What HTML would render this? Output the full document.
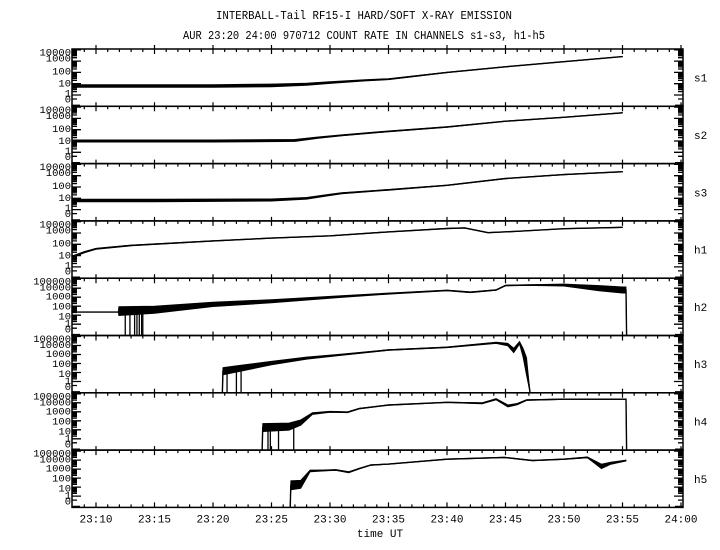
<!DOCTYPE html>
<html><head><meta charset="utf-8"><style>
html,body{margin:0;padding:0;background:#fff}
svg{display:block}
text{font-family:"Liberation Mono","DejaVu Sans Mono",monospace;fill:#000}
</style></head><body>
<svg id="chart" width="720" height="550" viewBox="0 0 720 550" xmlns="http://www.w3.org/2000/svg">
<text x="364" y="19" font-size="12" text-anchor="middle" textLength="296" lengthAdjust="spacingAndGlyphs">INTERBALL-Tail RF15-I HARD/SOFT X-RAY EMISSION</text>
<text x="364" y="39" font-size="12" text-anchor="middle" textLength="362" lengthAdjust="spacingAndGlyphs">AUR 23:20 24:00 970712  COUNT RATE IN CHANNELS s1-s3, h1-h5</text>
<g id="plots"></g>
<text x="380" y="537" font-size="11" text-anchor="middle">time UT</text>
</svg>
<script>
// ---- data (log10 counts; -1 = zero) ----
const channels = ["s1","s2","s3","h1","h2","h3","h4","h5"];
const tS1 = [8,15,20,25,28,30,33,35,40,45,50,55];
const vS1 = [0.8,0.8,0.8,0.85,0.95,1.1,1.3,1.4,2.0,2.5,2.95,3.4];
const sS1 = [0.12,0.12,0.12,0.12,0.1,0.08,0.06,0.05,0.03,0.02,0.02,0.02];
const tS2 = [8,20,27,29,31,35,40,45,50,55];
const vS2 = [1.0,1.0,1.05,1.3,1.5,1.85,2.24,2.75,3.1,3.5];
const sS2 = [0.1,0.1,0.09,0.06,0.05,0.04,0.03,0.02,0.02,0.02];
const tS3 = [8,15,25,28,30,31,35,40,45,50,55];
const vS3 = [0.8,0.8,0.85,1.0,1.3,1.45,1.75,2.15,2.75,3.1,3.35];
const sS3 = [0.12,0.12,0.1,0.08,0.06,0.05,0.04,0.03,0.02,0.02,0.02];
const tH1 = [8,9,10,13,20,25,30,35,40,41.5,43.5,46,50,55];
const vH1 = [0.9,1.3,1.6,1.9,2.3,2.55,2.75,3.1,3.4,3.45,3.03,3.15,3.38,3.5];
const sH1 = [0.08,0.06,0.05,0.04,0.03,0.02,0.02,0.02,0.02,0.02,0.02,0.02,0.02,0.02];
const tH2 = [8,11.9,11.95,15,20,25,30.8,35,40,42,44.2,45,47,50,53,55,55.3,55.35];
const vH2 = [1.35,1.35,1.45,1.6,2.2,2.55,3.05,3.4,3.75,3.55,3.8,4.3,4.35,4.35,4.0,3.8,3.8,-1];
const sH2 = [0,0,0.5,0.4,0.25,0.18,0.1,0.07,0.05,0.05,0.05,0.05,0.05,0.12,0.3,0.35,0.35,0];
const dH2 = [12.5,12.9,13.3,13.5,13.7,13.9,14.0];
const tH3 = [20.8,20.85,22,25,28,30.8,35,40,44.2,45.2,45.7,46.2,46.5,46.8,47.1];
const vH3 = [-1,1.15,1.4,2.05,2.6,2.95,3.5,3.8,4.3,4.1,3.45,4.3,3.2,1.65,-1];
const sH3 = [0,0.4,0.35,0.2,0.12,0.07,0.05,0.04,0.08,0.15,0.25,0.15,0.5,1.0,0.4];
const dH3 = [21.2,22.0,22.4];
const tH4 = [24.2,24.25,26.5,27.5,28.5,30,31.5,32.5,35,40,43,44.2,45.2,46,46.8,50,55.3,55.35];
const vH4 = [-1,1.25,1.35,1.8,2.8,3.0,2.95,3.35,3.75,4.05,3.95,4.4,3.65,3.85,4.3,4.4,4.4,-1];
const sH4 = [0,0.45,0.4,0.3,0.1,0.06,0.05,0.04,0.03,0.03,0.06,0.08,0.12,0.08,0.04,0.03,0.03,0];
const dH4 = [24.7,24.9,25.6,26.9];
const tH5 = [26.6,26.65,27.5,28.3,29.5,30.5,31.6,32.5,33.5,35,40,44.9,47.3,50,52,53.2,54,55.3];
const vH5 = [-1,1.2,1.3,2.8,2.85,2.9,2.65,3.05,3.45,3.55,4.1,4.3,3.95,4.1,4.3,3.3,3.65,3.95];
const sH5 = [0,0.5,0.45,0.1,0.06,0.05,0.06,0.04,0.03,0.03,0.03,0.03,0.03,0.03,0.05,0.25,0.12,0.05];
const timeTicks = [10,15,20,25,30,35,40,45,50,55,60];
const timeLabels = ["23:10","23:15","23:20","23:25","23:30","23:35","23:40","23:45","23:50","23:55","24:00"];
const sAxisLabels = ["0","1","10","100","1000","10000"];
const hAxisLabels = ["0","1","10","100","1000","10000","100000"];

const series = [
 [tS1,vS1,sS1,[]],[tS2,vS2,sS2,[]],[tS3,vS3,sS3,[]],[tH1,vH1,sH1,[]],
 [tH2,vH2,sH2,dH2],[tH3,vH3,sH3,dH3],[tH4,vH4,sH4,dH4],[tH5,vH5,sH5,[]]
];

const NS="http://www.w3.org/2000/svg";
const L=72, R=683, TOP=49, PH=57.3;
const xS = t => 96 + (t-10)*11.7;
function yS(top, kind, v){
  const dec = kind==='s'?11.3:9;
  if(v<0) return top+PH;
  return top+46 - v*dec;
}
const g=document.getElementById('plots');
function mk(tag,attrs,parent){const e=document.createElementNS(NS,tag);for(const k in attrs)e.setAttribute(k,attrs[k]);(parent||g).appendChild(e);return e;}

channels.forEach((ch,i)=>{
  const top=TOP+i*PH, kind=i<4?'s':'h';
  const pg=mk('g',{});
  
  
  const fr=mk('rect',{x:L,y:top,width:R-L,height:PH,fill:'none',stroke:'#000','stroke-width':1.5},pg);
  
  
  let d='';
  for(let m=9;m<=60;m++){const x=xS(m);
    if(m%5===0) d+=`M${x},${top-4}V${top+5}`; else d+=`M${x},${top}V${top+3}`;}
  const xt=mk('path',{d:d,stroke:'#000','stroke-width':1.2,fill:'none'},pg);
  
  
  const nd = kind==='s'?4:5;
  let yd='';
  const y0=yS(top,kind,-1)-1;
  yd+=`M${L},${y0}h8M${R},${y0}h-8`;
  yd+=`M${L},${top+50}h5M${R},${top+50}h-5`;
  for(let k=0;k<=nd;k++){const y=yS(top,kind,k);
    yd+=`M${L},${y}h9M${R},${y}h-9`;
    if(k<nd) for(let j=2;j<=9;j++){const yy=yS(top,kind,k+Math.log10(j));yd+=`M${L},${yy}h5M${R},${yy}h-5`;}
  }
  const yt=mk('path',{d:yd,stroke:'#000','stroke-width':1.3,fill:'none'},pg);
  
  
  const labs = kind==='s'?sAxisLabels:hAxisLabels;
  const offs = kind==='s'?[50,44,34,22,9,3]:[51,45,38,28,18,9,3];
  labs.forEach((lb,k)=>{
    const t=mk('text',{x:71,y:top+offs[k]+3.5,'font-size':10.5,'text-anchor':'end'},pg);
    t.textContent=lb;
    
    
  });
  const cl=mk('text',{x:694,y:top+PH/2+4,'font-size':11},pg);
  cl.textContent=ch;
  
  
  const [ts,vs,ss,ds]=series[i];
  let up=[],lo=[];
  ts.forEach((t,k)=>{
    const v=vs[k], s=ss[k];
    up.push(xS(t)+','+(v<0?yS(top,kind,-1):yS(top,kind,v+s)).toFixed(1));
    lo.unshift(xS(t)+','+(v<0?yS(top,kind,-1):yS(top,kind,v-s)).toFixed(1));
  });
  const band=mk('polygon',{points:up.concat(lo).join(' '),fill:'#000',stroke:'#000','stroke-width':0.8},pg);
  
  
  const line=mk('polyline',{points:ts.map((t,k)=>xS(t)+','+yS(top,kind,vs[k]).toFixed(1)).join(' '),fill:'none',stroke:'#000','stroke-width':1.4},pg);
  
  
  ds.forEach(t=>{
    let v=0;for(let k=0;k<ts.length-1;k++){if(t>=ts[k]&&t<=ts[k+1]){v=vs[k]+(vs[k+1]-vs[k])*(t-ts[k])/(ts[k+1]-ts[k]);}}
    const dl=mk('line',{x1:xS(t),x2:xS(t),y1:yS(top,kind,v),y2:top+PH,stroke:'#000','stroke-width':1.3},pg);
    
    
  });
});
const by=TOP+8*PH;
let bd='';
for(let m=9;m<=60;m++){const x=xS(m);
  if(m%5===0) bd+=`M${x},${by}V${by-5}`; else bd+=`M${x},${by}V${by-3}`;}
const bt=mk('path',{d:bd,stroke:'#000','stroke-width':1.2,fill:'none'});


timeTicks.forEach((m,k)=>{
  const t=mk('text',{x:xS(m),y:by+15,'font-size':11,'text-anchor':'middle'});
  t.textContent=timeLabels[k];
  
  
});
</script>
</body></html>
